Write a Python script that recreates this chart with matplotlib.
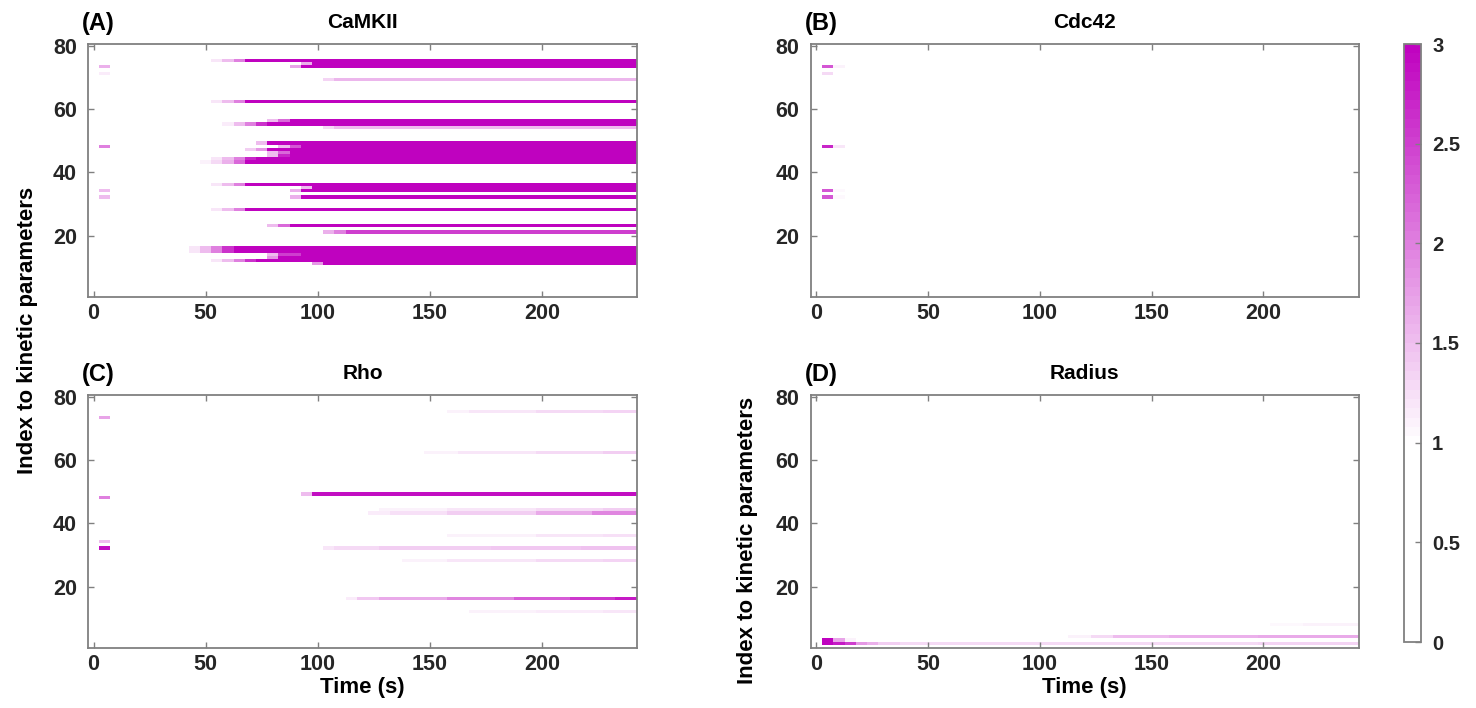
import numpy as np
import matplotlib
matplotlib.use('Agg')
import matplotlib.pyplot as plt
from matplotlib.colors import ListedColormap

plt.rcParams['font.family'] = ['Liberation Sans', 'DejaVu Sans']
plt.rcParams['font.weight'] = 'bold'

# time grid (s) and parameter index
time_s = np.arange(0, 245, 5)
param_index = np.arange(1, 81)

panel_titles = ['CaMKII', 'Cdc42', 'Rho', 'Radius']
panel_tags = ['(A)', '(B)', '(C)', '(D)']
x_ticks = [0, 50, 100, 150, 200]
y_ticks = [20, 40, 60, 80]
cbar_ticks = [0, 0.5, 1, 1.5, 2, 2.5, 3]
cbar_labels = ['0', '0.5', '1', '1.5', '2', '2.5', '3']

# (row, start time, value) -> value holds until the next step of the same row
camkii_steps = [
    (75, 55, 1.2), (75, 60, 1.5), (75, 65, 2.0), (75, 70, 3.0),
    (74, 95, 1.6), (74, 100, 3.0),
    (73, 5, 1.6), (73, 10, 0), (73, 90, 1.7), (73, 95, 3.0),
    (71, 5, 1.15), (71, 10, 0),
    (69, 105, 1.35), (69, 110, 1.55),
    (62, 55, 1.2), (62, 60, 1.5), (62, 65, 2.0), (62, 70, 3.0),
    (56, 80, 1.5), (56, 85, 2.2), (56, 90, 3.0),
    (55, 60, 1.15), (55, 65, 1.5), (55, 70, 2.0), (55, 75, 2.6), (55, 80, 3.0),
    (54, 105, 1.3), (54, 110, 1.5),
    (49, 75, 1.5), (49, 80, 3.0),
    (48, 5, 2.0), (48, 10, 0), (48, 85, 1.5), (48, 90, 2.3), (48, 95, 3.0),
    (47, 70, 1.4), (47, 75, 1.8), (47, 80, 3.0),
    (46, 80, 1.5), (46, 85, 2.2), (46, 90, 3.0),
    (45, 80, 1.5), (45, 85, 2.7), (45, 90, 3.0),
    (44, 55, 1.2), (44, 60, 1.5), (44, 65, 2.0), (44, 70, 2.7), (44, 75, 3.0),
    (43, 50, 1.1), (43, 55, 1.3), (43, 60, 1.6), (43, 65, 2.2), (43, 70, 3.0),
    (36, 55, 1.2), (36, 60, 1.5), (36, 65, 2.0), (36, 70, 3.0),
    (35, 95, 1.5), (35, 100, 3.0),
    (34, 5, 1.5), (34, 10, 0), (34, 90, 1.6), (34, 95, 3.0),
    (32, 5, 1.5), (32, 10, 0), (32, 90, 1.6), (32, 95, 3.0),
    (28, 55, 1.2), (28, 60, 1.5), (28, 65, 2.0), (28, 70, 3.0),
    (23, 80, 1.5), (23, 85, 2.2), (23, 90, 3.0),
    (21, 105, 1.6), (21, 110, 2.0), (21, 115, 2.5),
    (16, 45, 1.2), (16, 50, 1.5), (16, 55, 2.0), (16, 60, 2.6), (16, 65, 3.0),
    (15, 45, 1.2), (15, 50, 1.5), (15, 55, 2.0), (15, 60, 2.6), (15, 65, 3.0),
    (14, 80, 1.5), (14, 85, 2.5), (14, 95, 3.0),
    (13, 80, 1.8), (13, 85, 3.0),
    (12, 55, 1.2), (12, 60, 1.5), (12, 65, 2.0), (12, 70, 2.6), (12, 75, 3.0),
    (11, 100, 1.8), (11, 105, 3.0),
]

cdc42_steps = [
    (73, 5, 2.3), (73, 10, 1.08), (73, 15, 0),
    (71, 5, 1.3), (71, 10, 0),
    (48, 5, 2.7), (48, 10, 1.2), (48, 15, 0),
    (34, 5, 2.3), (34, 10, 1.05), (34, 15, 0),
    (32, 5, 2.3), (32, 10, 1.05), (32, 15, 0),
]

rho_steps = [
    (75, 160, 1.1), (75, 170, 1.2), (75, 200, 1.28), (75, 230, 1.35),
    (73, 5, 1.7), (73, 10, 0),
    (62, 150, 1.1), (62, 165, 1.2), (62, 200, 1.3), (62, 230, 1.4),
    (49, 95, 1.5), (49, 100, 2.9),
    (48, 5, 2.0), (48, 10, 0),
    (44, 130, 1.08), (44, 160, 1.2), (44, 200, 1.3), (44, 230, 1.4),
    (43, 125, 1.15), (43, 135, 1.25), (43, 160, 1.4), (43, 200, 1.65), (43, 225, 1.95),
    (36, 160, 1.1), (36, 200, 1.18), (36, 230, 1.25),
    (34, 5, 1.5), (34, 10, 0),
    (32, 5, 2.9), (32, 10, 0), (32, 105, 1.2), (32, 110, 1.3), (32, 130, 1.38),
    (32, 180, 1.42), (32, 220, 1.48),
    (28, 140, 1.1), (28, 160, 1.18), (28, 200, 1.28), (28, 230, 1.33),
    (16, 115, 1.15), (16, 120, 1.45), (16, 130, 1.65), (16, 160, 1.95), (16, 190, 2.25),
    (16, 215, 2.55), (16, 235, 2.8),
    (12, 170, 1.08), (12, 200, 1.15), (12, 230, 1.2),
]

radius_steps = [
    (8, 205, 1.06), (8, 220, 1.1),
    (4, 115, 1.12), (4, 125, 1.3), (4, 135, 1.5), (4, 160, 1.6), (4, 200, 1.65),
    (3, 5, 3.0), (3, 10, 1.7), (3, 15, 1.1), (3, 20, 0),
    (2, 5, 3.0), (2, 10, 2.8), (2, 15, 2.5), (2, 20, 1.8), (2, 25, 1.6), (2, 30, 1.4),
    (2, 40, 1.3), (2, 100, 1.28), (2, 200, 1.32),
]


def build_map(steps):
    grid = np.zeros((len(param_index), len(time_s)))
    for r in sorted(set(s[0] for s in steps)):
        pts = sorted((t, v) for rr, t, v in steps if rr == r)
        for k, (t, v) in enumerate(pts):
            t_end = pts[k + 1][0] if k + 1 < len(pts) else time_s[-1] + 5
            grid[r - 1, (time_s >= t) & (time_s < t_end)] = v
    return grid


# white below 1, then white -> magenta up to 3 (64 levels)
levels = (np.arange(64) + 0.5) / 64 * 3
frac = np.clip((levels - 1.0) / 2.0, 0, 1)
cmap = ListedColormap(np.column_stack([1 - 0.25 * frac, 1 - frac, 1 - 0.25 * frac]))

W, H = 1476, 708
fig = plt.figure(figsize=(W / 100, H / 100), dpi=100)

# axes boxes in pixels: left, top, width, height
boxes = [(88, 44, 549, 253.3), (810.5, 44, 548, 253.3),
         (88, 395, 549, 253.3), (810.5, 395, 548, 253.3)]
all_steps = [camkii_steps, cdc42_steps, rho_steps, radius_steps]
edge = '#808080'

for i, (steps, box) in enumerate(zip(all_steps, boxes)):
    l, t, w, h = box
    ax = fig.add_axes([l / W, 1 - (t + h) / H, w / W, h / H])
    im = ax.imshow(build_map(steps), origin='lower', aspect='auto', cmap=cmap,
                   vmin=0, vmax=3, interpolation='nearest',
                   extent=(time_s[0] - 2.5, time_s[-1] + 2.5, 0.5, 80.5))
    ax.set_xlim(time_s[0] - 2.5, time_s[-1] + 2.5)
    ax.set_ylim(0.5, 80.5)
    ax.set_xticks(x_ticks)
    ax.set_yticks(y_ticks)
    ax.tick_params(direction='in', top=True, right=True, length=4, width=1,
                   color=edge, labelcolor='#262626', labelsize=15.5)
    ax.tick_params(axis='y', pad=8)
    ax.tick_params(axis='x', pad=4)
    for sp in ax.spines.values():
        sp.set_color(edge)
        sp.set_linewidth(1.3)
    fig.text((l + w / 2) / W, 1 - (t - 16) / H, panel_titles[i], ha='center',
             va='baseline', fontsize=15, fontweight='bold')
    fig.text((l - 6) / W, 1 - (t - 14) / H, panel_tags[i], ha='left',
             va='baseline', fontsize=17, fontweight='bold')
    if i >= 2:
        fig.text((l + w / 2) / W, 1 - 688 / H, 'Time (s)', ha='center',
                 va='center', fontsize=16, fontweight='bold')

fig.text(28 / W, 1 - 330 / H, 'Index to kinetic parameters', rotation=90,
         ha='center', va='center', fontsize=16, fontweight='bold')
fig.text(748 / W, 1 - 540 / H, 'Index to kinetic parameters', rotation=90,
         ha='center', va='center', fontsize=16, fontweight='bold')

cax = fig.add_axes([1404 / W, 1 - 642 / H, 17 / W, 598 / H])
cb = fig.colorbar(im, cax=cax, ticks=cbar_ticks)
cb.ax.set_yticklabels(cbar_labels)
cb.ax.tick_params(direction='in', length=4, width=1, color=edge,
                  labelcolor='#262626', labelsize=14.5, pad=8)
cb.outline.set_edgecolor(edge)
cb.outline.set_linewidth(1.3)

fig.savefig('out.png', dpi=100)
